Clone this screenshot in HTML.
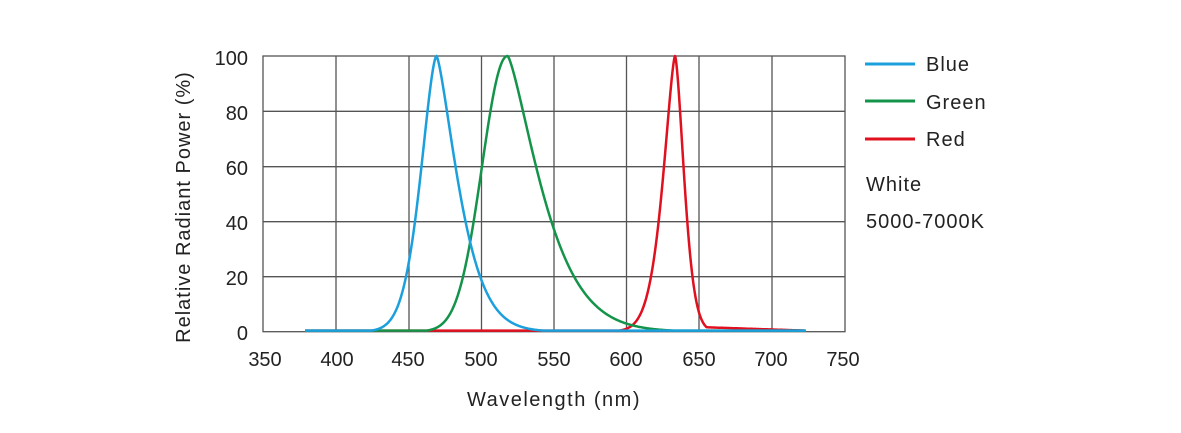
<!DOCTYPE html>
<html><head><meta charset="utf-8"><style>
html,body{margin:0;padding:0;background:#fff;}
svg{display:block;font-family:"Liberation Sans",sans-serif;}
</style></head><body>
<svg id="s" width="1181" height="433" viewBox="0 0 1181 433">
<g stroke="#555" stroke-width="1.3" fill="none">
<rect x="263" y="56" width="582" height="275.7"/>
<line x1="336" y1="56" x2="336" y2="331.7"/><line x1="409" y1="56" x2="409" y2="331.7"/>
<line x1="481.5" y1="56" x2="481.5" y2="331.7"/><line x1="554" y1="56" x2="554" y2="331.7"/>
<line x1="626.5" y1="56" x2="626.5" y2="331.7"/><line x1="699" y1="56" x2="699" y2="331.7"/>
<line x1="772" y1="56" x2="772" y2="331.7"/>
<line x1="263" y1="111.3" x2="845" y2="111.3"/><line x1="263" y1="166.7" x2="845" y2="166.7"/>
<line x1="263" y1="221.7" x2="845" y2="221.7"/><line x1="263" y1="276.7" x2="845" y2="276.7"/>
</g>
<g font-size="20" fill="#222" text-anchor="end">
<text x="248" y="65">100</text><text x="248" y="120">80</text><text x="248" y="175">60</text>
<text x="248" y="230">40</text><text x="248" y="285">20</text><text x="248" y="340">0</text>
</g>
<g font-size="20" fill="#222" text-anchor="middle">
<text x="265" y="366">350</text><text x="337" y="366">400</text><text x="408" y="366">450</text>
<text x="481" y="366">500</text><text x="554" y="366">550</text><text x="626" y="366">600</text>
<text x="699" y="366">650</text><text x="771" y="366">700</text><text x="843" y="366">750</text>
<text x="554" y="406" letter-spacing="1.5">Wavelength (nm)</text>
<text transform="translate(190,207) rotate(-90)" letter-spacing="1">Relative Radiant Power (%)</text>
</g>
<g id="curves" fill="none" stroke-width="2.5" stroke-linejoin="round"></g>
<g stroke-width="3">
<line x1="865" y1="64" x2="915" y2="64" stroke="#1ba0dd"/>
<line x1="865" y1="101" x2="915" y2="101" stroke="#14944a"/>
<line x1="865" y1="139" x2="915" y2="139" stroke="#e0101f"/>
</g>
<g font-size="20" fill="#222" letter-spacing="1">
<text x="926" y="71">Blue</text><text x="926" y="109">Green</text><text x="926" y="146">Red</text>
<text x="866" y="191">White</text><text x="866" y="228">5000-7000K</text>
</g>
</svg>
<script>
function mk(p,d60l,nl,d60r,nr,base,col,x0,x1,extra){
 var al=0.511/Math.pow(d60l,nl), ar=0.511/Math.pow(d60r,nr);
 var d="";
 for(var x=x0;x<=x1;x+=0.5){
  var dd=x-p,a=dd<0?al:ar,n=dd<0?nl:nr;
  var v=100*Math.exp(-a*Math.pow(Math.abs(dd),n));
  if(extra) v=Math.max(v,extra(x));
  v=Math.max(v,base);
  var y=331.7-v*2.757;
  d+=(d?"L":"M")+x.toFixed(1)+","+y.toFixed(1);
 }
 var e=document.createElementNS("http://www.w3.org/2000/svg","path");
 e.setAttribute("d",d);e.setAttribute("stroke",col);
 document.getElementById("curves").appendChild(e);
}
mk(675,11,1.47,8.5,1.59,0.4,"#e0101f",305,805,function(x){return x>690?0.4+1.4*(805-x)/115:0;});
mk(507.6,25.6,2.07,28.4,1.35,0.4,"#14944a",305,805);
mk(436.5,15,1.62,19,1.38,0.4,"#1ba0dd",305,806);
</script>
</body></html>
